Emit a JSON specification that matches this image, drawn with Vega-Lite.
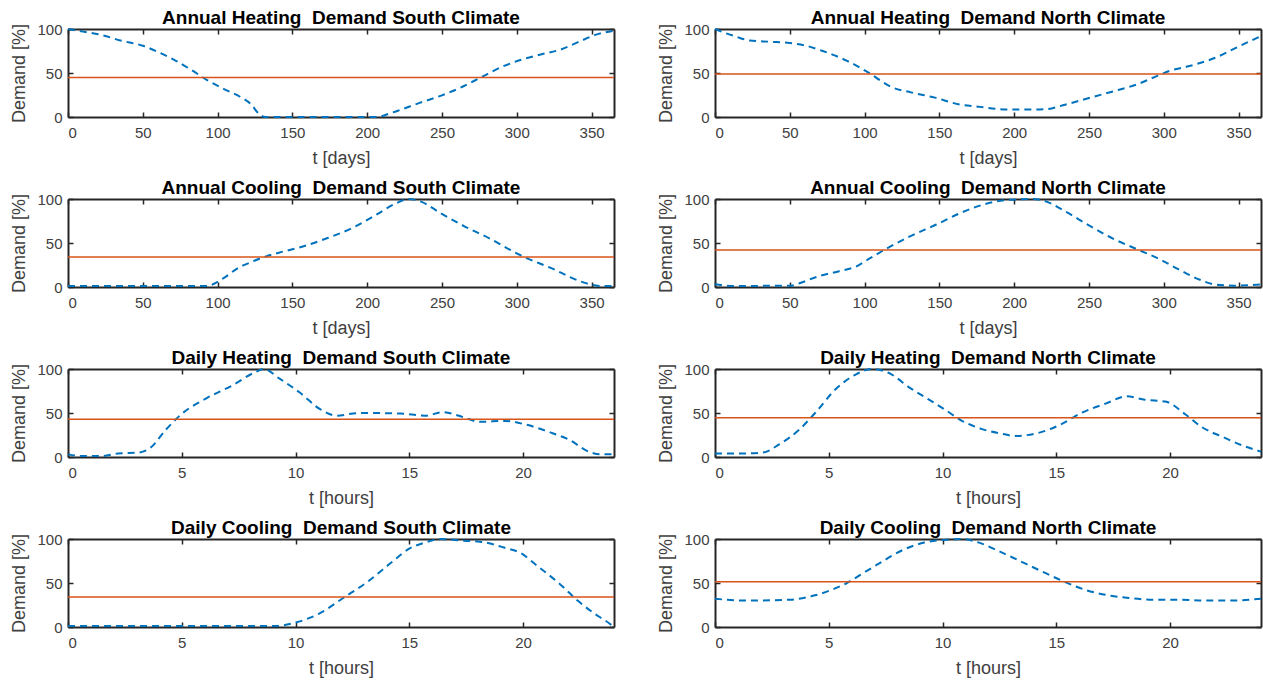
{
  "$schema": "https://vega.github.io/schema/vega-lite/v6.json",
  "padding": {"left": 10, "top": 9, "right": 2, "bottom": 2},
  "background": "white",
  "config": {
    "font": "Liberation Sans",
    "view": {"stroke": null},
    "axis": {
      "grid": false,
      "labelFont": "Liberation Sans",
      "labelFontSize": 15,
      "labelColor": "#404040",
      "titleFont": "Liberation Sans",
      "titleFontSize": 18,
      "titleFontWeight": "normal",
      "titleColor": "#404040",
      "tickColor": "#262626",
      "tickSize": -5,
      "tickWidth": 1.5,
      "domainColor": "#262626",
      "domainWidth": 2
    },
    "title": {"font": "Liberation Sans", "fontSize": 19, "fontWeight": "bold", "color": "#000000", "offset": -6}
  },
  "datasets": {
    "curves": [
      {"p":"AHS","t":0,"d":100},{"p":"AHS","t":10,"d":97},{"p":"AHS","t":23,"d":93},{"p":"AHS","t":35,"d":87},{"p":"AHS","t":50,"d":81},{"p":"AHS","t":60,"d":74},{"p":"AHS","t":71,"d":65},{"p":"AHS","t":82,"d":54},{"p":"AHS","t":93,"d":42},{"p":"AHS","t":104,"d":32},{"p":"AHS","t":115,"d":23},{"p":"AHS","t":122,"d":15},{"p":"AHS","t":128,"d":3},{"p":"AHS","t":132,"d":0},{"p":"AHS","t":150,"d":0},{"p":"AHS","t":170,"d":0},{"p":"AHS","t":190,"d":0},{"p":"AHS","t":206,"d":0},{"p":"AHS","t":215,"d":4},{"p":"AHS","t":222,"d":8},{"p":"AHS","t":235,"d":16},{"p":"AHS","t":249,"d":24},{"p":"AHS","t":262,"d":33},{"p":"AHS","t":276,"d":45},{"p":"AHS","t":290,"d":57},{"p":"AHS","t":303,"d":65},{"p":"AHS","t":316,"d":71},{"p":"AHS","t":330,"d":77},{"p":"AHS","t":341,"d":85},{"p":"AHS","t":352,"d":93},{"p":"AHS","t":365,"d":98},
      {"p":"AHN","t":0,"d":100},{"p":"AHN","t":6,"d":96},{"p":"AHN","t":13,"d":92},{"p":"AHN","t":23,"d":87},{"p":"AHN","t":37,"d":85.5},{"p":"AHN","t":50,"d":84},{"p":"AHN","t":61,"d":81},{"p":"AHN","t":72,"d":75},{"p":"AHN","t":80,"d":70},{"p":"AHN","t":88,"d":64},{"p":"AHN","t":96,"d":57},{"p":"AHN","t":104,"d":49},{"p":"AHN","t":111,"d":41},{"p":"AHN","t":118,"d":34},{"p":"AHN","t":131,"d":28},{"p":"AHN","t":147,"d":22},{"p":"AHN","t":164,"d":14},{"p":"AHN","t":177,"d":11.5},{"p":"AHN","t":190,"d":9},{"p":"AHN","t":200,"d":8.5},{"p":"AHN","t":212,"d":8.5},{"p":"AHN","t":222,"d":9},{"p":"AHN","t":234,"d":14},{"p":"AHN","t":253,"d":23},{"p":"AHN","t":266,"d":29},{"p":"AHN","t":282,"d":37},{"p":"AHN","t":296,"d":47},{"p":"AHN","t":305,"d":53},{"p":"AHN","t":315,"d":57},{"p":"AHN","t":334,"d":67},{"p":"AHN","t":350,"d":80},{"p":"AHN","t":365,"d":92},
      {"p":"ACS","t":0,"d":1},{"p":"ACS","t":20,"d":1},{"p":"ACS","t":40,"d":1},{"p":"ACS","t":60,"d":1},{"p":"ACS","t":80,"d":1},{"p":"ACS","t":93,"d":1},{"p":"ACS","t":98,"d":4},{"p":"ACS","t":104,"d":10},{"p":"ACS","t":114,"d":22},{"p":"ACS","t":122,"d":28},{"p":"ACS","t":131,"d":34},{"p":"ACS","t":141,"d":39},{"p":"ACS","t":157,"d":46},{"p":"ACS","t":174,"d":56},{"p":"ACS","t":190,"d":67},{"p":"ACS","t":206,"d":82},{"p":"ACS","t":218,"d":94},{"p":"ACS","t":228,"d":100},{"p":"ACS","t":236,"d":97},{"p":"ACS","t":249,"d":84},{"p":"ACS","t":265,"d":69},{"p":"ACS","t":282,"d":55},{"p":"ACS","t":298,"d":40},{"p":"ACS","t":305,"d":34},{"p":"ACS","t":315,"d":27},{"p":"ACS","t":325,"d":20},{"p":"ACS","t":336,"d":11},{"p":"ACS","t":345,"d":5},{"p":"ACS","t":352,"d":2},{"p":"ACS","t":358,"d":1},{"p":"ACS","t":365,"d":1},
      {"p":"ACN","t":0,"d":3},{"p":"ACN","t":13,"d":1},{"p":"ACN","t":24,"d":1},{"p":"ACN","t":38,"d":1.5},{"p":"ACN","t":51,"d":1.5},{"p":"ACN","t":56,"d":4},{"p":"ACN","t":69,"d":12},{"p":"ACN","t":83,"d":18},{"p":"ACN","t":94,"d":23},{"p":"ACN","t":104,"d":33},{"p":"ACN","t":115,"d":44},{"p":"ACN","t":131,"d":58},{"p":"ACN","t":148,"d":71},{"p":"ACN","t":164,"d":84},{"p":"ACN","t":180,"d":94},{"p":"ACN","t":196,"d":99},{"p":"ACN","t":212,"d":100},{"p":"ACN","t":220,"d":98},{"p":"ACN","t":234,"d":86},{"p":"ACN","t":250,"d":70},{"p":"ACN","t":266,"d":55},{"p":"ACN","t":282,"d":43},{"p":"ACN","t":298,"d":31},{"p":"ACN","t":310,"d":20},{"p":"ACN","t":323,"d":9},{"p":"ACN","t":334,"d":3},{"p":"ACN","t":347,"d":1.5},{"p":"ACN","t":356,"d":2},{"p":"ACN","t":365,"d":3},
      {"p":"DHS","t":0,"d":3},{"p":"DHS","t":0.6,"d":1},{"p":"DHS","t":1.5,"d":1},{"p":"DHS","t":2.2,"d":4},{"p":"DHS","t":3.1,"d":5},{"p":"DHS","t":3.6,"d":10},{"p":"DHS","t":4.3,"d":31},{"p":"DHS","t":5,"d":49},{"p":"DHS","t":6.1,"d":67},{"p":"DHS","t":7.2,"d":81},{"p":"DHS","t":8.2,"d":96},{"p":"DHS","t":8.6,"d":100},{"p":"DHS","t":9.3,"d":89},{"p":"DHS","t":10.2,"d":73},{"p":"DHS","t":11.1,"d":54},{"p":"DHS","t":11.8,"d":47},{"p":"DHS","t":12.8,"d":50},{"p":"DHS","t":14.6,"d":49.5},{"p":"DHS","t":15.7,"d":47},{"p":"DHS","t":16.5,"d":51},{"p":"DHS","t":17.4,"d":45},{"p":"DHS","t":18.1,"d":40},{"p":"DHS","t":19.2,"d":41},{"p":"DHS","t":20.1,"d":37},{"p":"DHS","t":21.3,"d":27},{"p":"DHS","t":22,"d":20},{"p":"DHS","t":22.9,"d":6},{"p":"DHS","t":23.4,"d":3},{"p":"DHS","t":24,"d":3},
      {"p":"DHN","t":0,"d":4},{"p":"DHN","t":1,"d":4},{"p":"DHN","t":2.1,"d":5},{"p":"DHN","t":2.8,"d":14},{"p":"DHN","t":3.7,"d":31},{"p":"DHN","t":4.4,"d":50},{"p":"DHN","t":5.3,"d":77},{"p":"DHN","t":6.2,"d":94},{"p":"DHN","t":6.9,"d":100},{"p":"DHN","t":7.6,"d":96},{"p":"DHN","t":8.6,"d":78},{"p":"DHN","t":9.35,"d":66},{"p":"DHN","t":10.1,"d":54},{"p":"DHN","t":10.8,"d":42},{"p":"DHN","t":11.7,"d":32},{"p":"DHN","t":12.5,"d":27},{"p":"DHN","t":13.2,"d":24},{"p":"DHN","t":14.3,"d":28},{"p":"DHN","t":15.2,"d":37},{"p":"DHN","t":16.1,"d":50},{"p":"DHN","t":17.2,"d":61},{"p":"DHN","t":18.1,"d":69},{"p":"DHN","t":18.9,"d":65},{"p":"DHN","t":19.8,"d":63},{"p":"DHN","t":20.7,"d":48},{"p":"DHN","t":21.4,"d":34},{"p":"DHN","t":22.3,"d":23},{"p":"DHN","t":23.2,"d":13},{"p":"DHN","t":24,"d":6},
      {"p":"DCS","t":0,"d":1},{"p":"DCS","t":3,"d":1},{"p":"DCS","t":6,"d":1},{"p":"DCS","t":9.1,"d":1},{"p":"DCS","t":10,"d":5},{"p":"DCS","t":11.1,"d":16},{"p":"DCS","t":12.1,"d":33},{"p":"DCS","t":13.2,"d":52},{"p":"DCS","t":14.2,"d":73},{"p":"DCS","t":15,"d":89},{"p":"DCS","t":15.7,"d":96},{"p":"DCS","t":16.4,"d":100},{"p":"DCS","t":17.4,"d":98},{"p":"DCS","t":18.1,"d":97},{"p":"DCS","t":19.2,"d":90},{"p":"DCS","t":19.9,"d":84},{"p":"DCS","t":20.6,"d":70},{"p":"DCS","t":21.7,"d":47},{"p":"DCS","t":22.4,"d":30},{"p":"DCS","t":23.1,"d":16},{"p":"DCS","t":23.8,"d":4},{"p":"DCS","t":24,"d":0},
      {"p":"DCN","t":0,"d":32},{"p":"DCN","t":1.5,"d":30},{"p":"DCN","t":3.3,"d":31},{"p":"DCN","t":4.4,"d":36},{"p":"DCN","t":5.1,"d":42},{"p":"DCN","t":5.8,"d":50},{"p":"DCN","t":6.5,"d":61},{"p":"DCN","t":7.2,"d":72},{"p":"DCN","t":8.3,"d":88},{"p":"DCN","t":9.2,"d":96},{"p":"DCN","t":10.1,"d":99},{"p":"DCN","t":10.8,"d":100},{"p":"DCN","t":11.7,"d":95},{"p":"DCN","t":12.5,"d":86},{"p":"DCN","t":13.4,"d":75},{"p":"DCN","t":14.3,"d":64},{"p":"DCN","t":15.4,"d":51},{"p":"DCN","t":16.3,"d":42},{"p":"DCN","t":17.3,"d":36},{"p":"DCN","t":18.2,"d":33},{"p":"DCN","t":19.3,"d":31},{"p":"DCN","t":20.4,"d":31},{"p":"DCN","t":21.4,"d":30},{"p":"DCN","t":22.5,"d":30},{"p":"DCN","t":24,"d":32}
    ],
    "means": [
      {"p":"AHS","m":45},{"p":"AHN","m":49},{"p":"ACS","m":34},{"p":"ACN","m":42},
      {"p":"DHS","m":43},{"p":"DHN","m":44.5},{"p":"DCS","m":34},{"p":"DCN","m":51.5}
    ]
  },
  "columns": 2,
  "spacing": {"row": 12, "column": 39},
  "concat": [
    {"title": "Annual Heating\u00a0 Demand South Climate", "width": 546, "height": 88, "layer": [
      {"data": {"name": "curves"}, "transform": [{"filter": "datum.p == 'AHS'"}], "mark": {"type": "line", "color": "#0072BD", "strokeWidth": 2, "strokeDash": [7, 5], "interpolate": "monotone"},
       "encoding": {"x": {"field": "t", "type": "quantitative", "scale": {"domain": [0, 365], "nice": false, "zero": false}, "axis": {"orient": "bottom", "values": [0,50,100,150,200,250,300,350], "title": "t [days]", "labelPadding": 13, "titlePadding": 9}},
                    "y": {"field": "d", "type": "quantitative", "scale": {"domain": [0, 100], "nice": false}, "axis": {"orient": "left", "values": [0,50,100], "title": "Demand [%]", "labelPadding": 11, "titlePadding": 8}}}},
      {"data": {"name": "curves"}, "transform": [{"filter": "datum.p == 'AHS'"}], "mark": {"type": "line", "opacity": 0},
       "encoding": {"x": {"field": "t", "type": "quantitative", "axis": {"orient": "top", "values": [0,50,100,150,200,250,300,350], "labels": false, "title": null}},
                    "y": {"field": "d", "type": "quantitative", "axis": {"orient": "right", "values": [0,50,100], "labels": false, "title": null}}}},
      {"data": {"name": "means"}, "transform": [{"filter": "datum.p == 'AHS'"}], "mark": {"type": "rule", "color": "#D95319", "strokeWidth": 1.5},
       "encoding": {"y": {"field": "m", "type": "quantitative", "axis": null}}}
    ]},
    {"title": "Annual Heating\u00a0 Demand North Climate", "width": 546, "height": 88, "layer": [
      {"data": {"name": "curves"}, "transform": [{"filter": "datum.p == 'AHN'"}], "mark": {"type": "line", "color": "#0072BD", "strokeWidth": 2, "strokeDash": [7, 5], "interpolate": "monotone"},
       "encoding": {"x": {"field": "t", "type": "quantitative", "scale": {"domain": [0, 365], "nice": false, "zero": false}, "axis": {"orient": "bottom", "values": [0,50,100,150,200,250,300,350], "title": "t [days]", "labelPadding": 13, "titlePadding": 9}},
                    "y": {"field": "d", "type": "quantitative", "scale": {"domain": [0, 100], "nice": false}, "axis": {"orient": "left", "values": [0,50,100], "title": "Demand [%]", "labelPadding": 11, "titlePadding": 8}}}},
      {"data": {"name": "curves"}, "transform": [{"filter": "datum.p == 'AHN'"}], "mark": {"type": "line", "opacity": 0},
       "encoding": {"x": {"field": "t", "type": "quantitative", "axis": {"orient": "top", "values": [0,50,100,150,200,250,300,350], "labels": false, "title": null}},
                    "y": {"field": "d", "type": "quantitative", "axis": {"orient": "right", "values": [0,50,100], "labels": false, "title": null}}}},
      {"data": {"name": "means"}, "transform": [{"filter": "datum.p == 'AHN'"}], "mark": {"type": "rule", "color": "#D95319", "strokeWidth": 1.5},
       "encoding": {"y": {"field": "m", "type": "quantitative", "axis": null}}}
    ]},
    {"title": "Annual Cooling\u00a0 Demand South Climate", "width": 546, "height": 88, "layer": [
      {"data": {"name": "curves"}, "transform": [{"filter": "datum.p == 'ACS'"}], "mark": {"type": "line", "color": "#0072BD", "strokeWidth": 2, "strokeDash": [7, 5], "interpolate": "monotone"},
       "encoding": {"x": {"field": "t", "type": "quantitative", "scale": {"domain": [0, 365], "nice": false, "zero": false}, "axis": {"orient": "bottom", "values": [0,50,100,150,200,250,300,350], "title": "t [days]", "labelPadding": 13, "titlePadding": 9}},
                    "y": {"field": "d", "type": "quantitative", "scale": {"domain": [0, 100], "nice": false}, "axis": {"orient": "left", "values": [0,50,100], "title": "Demand [%]", "labelPadding": 11, "titlePadding": 8}}}},
      {"data": {"name": "curves"}, "transform": [{"filter": "datum.p == 'ACS'"}], "mark": {"type": "line", "opacity": 0},
       "encoding": {"x": {"field": "t", "type": "quantitative", "axis": {"orient": "top", "values": [0,50,100,150,200,250,300,350], "labels": false, "title": null}},
                    "y": {"field": "d", "type": "quantitative", "axis": {"orient": "right", "values": [0,50,100], "labels": false, "title": null}}}},
      {"data": {"name": "means"}, "transform": [{"filter": "datum.p == 'ACS'"}], "mark": {"type": "rule", "color": "#D95319", "strokeWidth": 1.5},
       "encoding": {"y": {"field": "m", "type": "quantitative", "axis": null}}}
    ]},
    {"title": "Annual Cooling\u00a0 Demand North Climate", "width": 546, "height": 88, "layer": [
      {"data": {"name": "curves"}, "transform": [{"filter": "datum.p == 'ACN'"}], "mark": {"type": "line", "color": "#0072BD", "strokeWidth": 2, "strokeDash": [7, 5], "interpolate": "monotone"},
       "encoding": {"x": {"field": "t", "type": "quantitative", "scale": {"domain": [0, 365], "nice": false, "zero": false}, "axis": {"orient": "bottom", "values": [0,50,100,150,200,250,300,350], "title": "t [days]", "labelPadding": 13, "titlePadding": 9}},
                    "y": {"field": "d", "type": "quantitative", "scale": {"domain": [0, 100], "nice": false}, "axis": {"orient": "left", "values": [0,50,100], "title": "Demand [%]", "labelPadding": 11, "titlePadding": 8}}}},
      {"data": {"name": "curves"}, "transform": [{"filter": "datum.p == 'ACN'"}], "mark": {"type": "line", "opacity": 0},
       "encoding": {"x": {"field": "t", "type": "quantitative", "axis": {"orient": "top", "values": [0,50,100,150,200,250,300,350], "labels": false, "title": null}},
                    "y": {"field": "d", "type": "quantitative", "axis": {"orient": "right", "values": [0,50,100], "labels": false, "title": null}}}},
      {"data": {"name": "means"}, "transform": [{"filter": "datum.p == 'ACN'"}], "mark": {"type": "rule", "color": "#D95319", "strokeWidth": 1.5},
       "encoding": {"y": {"field": "m", "type": "quantitative", "axis": null}}}
    ]},
    {"title": "Daily Heating\u00a0 Demand South Climate", "width": 546, "height": 88, "layer": [
      {"data": {"name": "curves"}, "transform": [{"filter": "datum.p == 'DHS'"}], "mark": {"type": "line", "color": "#0072BD", "strokeWidth": 2, "strokeDash": [7, 5], "interpolate": "monotone"},
       "encoding": {"x": {"field": "t", "type": "quantitative", "scale": {"domain": [0, 24], "nice": false, "zero": false}, "axis": {"orient": "bottom", "values": [0,5,10,15,20], "title": "t [hours]", "labelPadding": 13, "titlePadding": 9}},
                    "y": {"field": "d", "type": "quantitative", "scale": {"domain": [0, 100], "nice": false}, "axis": {"orient": "left", "values": [0,50,100], "title": "Demand [%]", "labelPadding": 11, "titlePadding": 8}}}},
      {"data": {"name": "curves"}, "transform": [{"filter": "datum.p == 'DHS'"}], "mark": {"type": "line", "opacity": 0},
       "encoding": {"x": {"field": "t", "type": "quantitative", "axis": {"orient": "top", "values": [0,5,10,15,20], "labels": false, "title": null}},
                    "y": {"field": "d", "type": "quantitative", "axis": {"orient": "right", "values": [0,50,100], "labels": false, "title": null}}}},
      {"data": {"name": "means"}, "transform": [{"filter": "datum.p == 'DHS'"}], "mark": {"type": "rule", "color": "#D95319", "strokeWidth": 1.5},
       "encoding": {"y": {"field": "m", "type": "quantitative", "axis": null}}}
    ]},
    {"title": "Daily Heating\u00a0 Demand North Climate", "width": 546, "height": 88, "layer": [
      {"data": {"name": "curves"}, "transform": [{"filter": "datum.p == 'DHN'"}], "mark": {"type": "line", "color": "#0072BD", "strokeWidth": 2, "strokeDash": [7, 5], "interpolate": "monotone"},
       "encoding": {"x": {"field": "t", "type": "quantitative", "scale": {"domain": [0, 24], "nice": false, "zero": false}, "axis": {"orient": "bottom", "values": [0,5,10,15,20], "title": "t [hours]", "labelPadding": 13, "titlePadding": 9}},
                    "y": {"field": "d", "type": "quantitative", "scale": {"domain": [0, 100], "nice": false}, "axis": {"orient": "left", "values": [0,50,100], "title": "Demand [%]", "labelPadding": 11, "titlePadding": 8}}}},
      {"data": {"name": "curves"}, "transform": [{"filter": "datum.p == 'DHN'"}], "mark": {"type": "line", "opacity": 0},
       "encoding": {"x": {"field": "t", "type": "quantitative", "axis": {"orient": "top", "values": [0,5,10,15,20], "labels": false, "title": null}},
                    "y": {"field": "d", "type": "quantitative", "axis": {"orient": "right", "values": [0,50,100], "labels": false, "title": null}}}},
      {"data": {"name": "means"}, "transform": [{"filter": "datum.p == 'DHN'"}], "mark": {"type": "rule", "color": "#D95319", "strokeWidth": 1.5},
       "encoding": {"y": {"field": "m", "type": "quantitative", "axis": null}}}
    ]},
    {"title": "Daily Cooling\u00a0 Demand South Climate", "width": 546, "height": 88, "layer": [
      {"data": {"name": "curves"}, "transform": [{"filter": "datum.p == 'DCS'"}], "mark": {"type": "line", "color": "#0072BD", "strokeWidth": 2, "strokeDash": [7, 5], "interpolate": "monotone"},
       "encoding": {"x": {"field": "t", "type": "quantitative", "scale": {"domain": [0, 24], "nice": false, "zero": false}, "axis": {"orient": "bottom", "values": [0,5,10,15,20], "title": "t [hours]", "labelPadding": 13, "titlePadding": 9}},
                    "y": {"field": "d", "type": "quantitative", "scale": {"domain": [0, 100], "nice": false}, "axis": {"orient": "left", "values": [0,50,100], "title": "Demand [%]", "labelPadding": 11, "titlePadding": 8}}}},
      {"data": {"name": "curves"}, "transform": [{"filter": "datum.p == 'DCS'"}], "mark": {"type": "line", "opacity": 0},
       "encoding": {"x": {"field": "t", "type": "quantitative", "axis": {"orient": "top", "values": [0,5,10,15,20], "labels": false, "title": null}},
                    "y": {"field": "d", "type": "quantitative", "axis": {"orient": "right", "values": [0,50,100], "labels": false, "title": null}}}},
      {"data": {"name": "means"}, "transform": [{"filter": "datum.p == 'DCS'"}], "mark": {"type": "rule", "color": "#D95319", "strokeWidth": 1.5},
       "encoding": {"y": {"field": "m", "type": "quantitative", "axis": null}}}
    ]},
    {"title": "Daily Cooling\u00a0 Demand North Climate", "width": 546, "height": 88, "layer": [
      {"data": {"name": "curves"}, "transform": [{"filter": "datum.p == 'DCN'"}], "mark": {"type": "line", "color": "#0072BD", "strokeWidth": 2, "strokeDash": [7, 5], "interpolate": "monotone"},
       "encoding": {"x": {"field": "t", "type": "quantitative", "scale": {"domain": [0, 24], "nice": false, "zero": false}, "axis": {"orient": "bottom", "values": [0,5,10,15,20], "title": "t [hours]", "labelPadding": 13, "titlePadding": 9}},
                    "y": {"field": "d", "type": "quantitative", "scale": {"domain": [0, 100], "nice": false}, "axis": {"orient": "left", "values": [0,50,100], "title": "Demand [%]", "labelPadding": 11, "titlePadding": 8}}}},
      {"data": {"name": "curves"}, "transform": [{"filter": "datum.p == 'DCN'"}], "mark": {"type": "line", "opacity": 0},
       "encoding": {"x": {"field": "t", "type": "quantitative", "axis": {"orient": "top", "values": [0,5,10,15,20], "labels": false, "title": null}},
                    "y": {"field": "d", "type": "quantitative", "axis": {"orient": "right", "values": [0,50,100], "labels": false, "title": null}}}},
      {"data": {"name": "means"}, "transform": [{"filter": "datum.p == 'DCN'"}], "mark": {"type": "rule", "color": "#D95319", "strokeWidth": 1.5},
       "encoding": {"y": {"field": "m", "type": "quantitative", "axis": null}}}
    ]}
  ]
}
